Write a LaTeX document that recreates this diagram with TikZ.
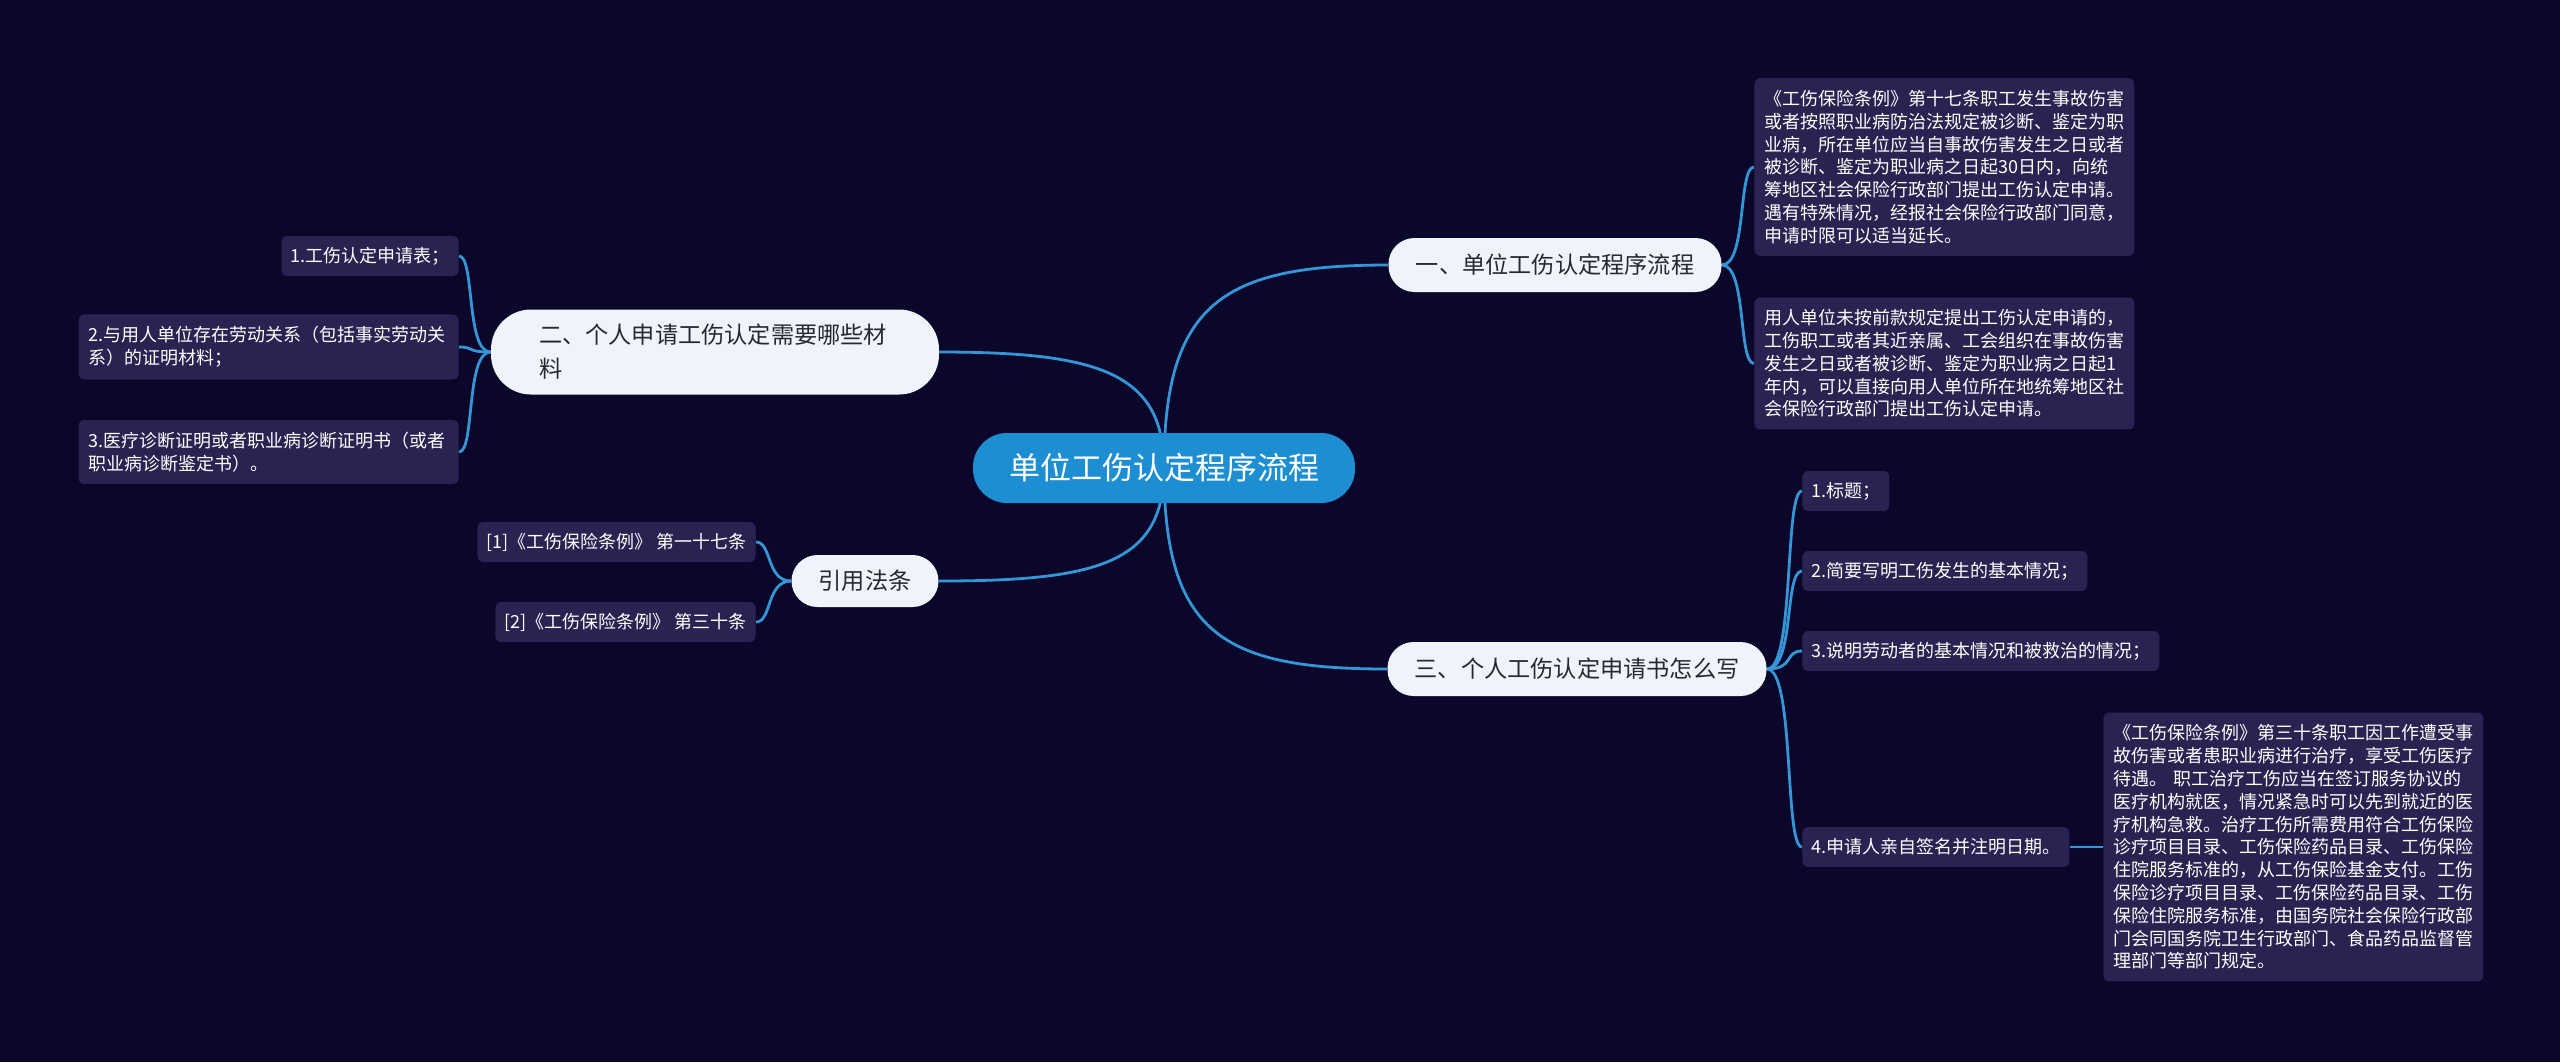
\documentclass[tikz,border=0pt]{standalone}
\usepackage{fontspec}
\setmainfont{Noto Sans CJK SC}
\usetikzlibrary{backgrounds}

\definecolor{bgcol}{RGB}{11,7,42}
\definecolor{linecol}{RGB}{52,150,215}
\definecolor{rootcol}{RGB}{30,142,210}
\definecolor{branchcol}{RGB}{238,243,252}
\definecolor{branchtext}{RGB}{40,40,50}
\definecolor{leafcol}{RGB}{40,35,80}

\tikzset{
    link/.style={draw=linecol, line width=1.4pt},
    rootnode/.style={fill=rootcol, text=white, rounded corners=17pt,
	minimum width=191pt, minimum height=35pt, font=\fontsize{15.5}{18}\selectfont},
    branch/.style={fill=branchcol, text=branchtext, rounded corners=13pt,
	minimum height=27pt, font=\fontsize{11.6}{17}\selectfont},
    leaf/.style={fill=leafcol, text=white, rounded corners=3pt, inner xsep=4.5pt,
	inner ysep=5pt, minimum height=20pt, font=\fontsize{9}{11.4}\selectfont, align=left},
    wideleaf/.style={leaf, text width=180pt, inner xsep=5pt, inner ysep=6pt}
}

\begin{document}
\begin{tikzpicture}[x=0.5pt, y=-0.5pt]
    \useasboundingbox (0, 0) rectangle (2560, 1062);
    \node[rootnode] (root) at (1164, 468) {单位工伤认定程序流程};
    \node[branch, minimum width=166.5pt] (b1) at (1555, 265) {一、单位工伤认定程序流程};
    \node[branch, minimum width=189.5pt] (b3) at (1577, 669) {三、个人工伤认定申请书怎么写};
    \node[branch, minimum width=224pt, minimum height=42.5pt, rounded corners=20pt,
	text width=176pt, inner xsep=24pt, align=left] (b2) at (715, 352)
	{二、个人申请工伤认定需要哪些材\\料};
    \node[branch, minimum width=73.5pt, minimum height=26pt] (b4) at (865, 581) {引用法条};

    \node[wideleaf, anchor=west] (lA) at (1754, 167) {《工伤保险条例》第十七条职工发生事故伤害\\
或者按照职业病防治法规定被诊断、鉴定为职\\
业病，所在单位应当自事故伤害发生之日或者\\
被诊断、鉴定为职业病之日起30日内，向统\\
筹地区社会保险行政部门提出工伤认定申请。\\
遇有特殊情况，经报社会保险行政部门同意，\\
申请时限可以适当延长。};
    \node[wideleaf, anchor=west] (lB) at (1754, 363.5) {用人单位未按前款规定提出工伤认定申请的，\\
工伤职工或者其近亲属、工会组织在事故伤害\\
发生之日或者被诊断、鉴定为职业病之日起1\\
年内，可以直接向用人单位所在地统筹地区社\\
会保险行政部门提出工伤认定申请。};

    \node[leaf, anchor=east] (l1) at (459, 256) {1.工伤认定申请表；};
    \node[wideleaf, anchor=east] (l2) at (459, 347) {2.与用人单位存在劳动关系（包括事实劳动关\\
系）的证明材料；};
    \node[wideleaf, anchor=east] (l3) at (459, 452) {3.医疗诊断证明或者职业病诊断证明书（或者\\
职业病诊断鉴定书）。};

    \node[leaf, anchor=east] (r1) at (756, 542) {[1]《工伤保险条例》 第一十七条};
    \node[leaf, anchor=east] (r2) at (756, 622) {[2]《工伤保险条例》 第三十条};

    \node[leaf, anchor=west] (s1) at (1802, 491) {1.标题；};
    \node[leaf, anchor=west] (s2) at (1802, 571) {2.简要写明工伤发生的基本情况；};
    \node[leaf, anchor=west] (s3) at (1802, 651) {3.说明劳动者的基本情况和被救治的情况；};
    \node[leaf, anchor=west] (s4) at (1802, 847) {4.申请人亲自签名并注明日期。};
    \node[wideleaf, anchor=west] (s5) at (2103, 847) {《工伤保险条例》第三十条职工因工作遭受事\\
故伤害或者患职业病进行治疗，享受工伤医疗\\
待遇。 职工治疗工伤应当在签订服务协议的\\
医疗机构就医，情况紧急时可以先到就近的医\\
疗机构急救。治疗工伤所需费用符合工伤保险\\
诊疗项目目录、工伤保险药品目录、工伤保险\\
住院服务标准的，从工伤保险基金支付。工伤\\
保险诊疗项目目录、工伤保险药品目录、工伤\\
保险住院服务标准，由国务院社会保险行政部\\
门会同国务院卫生行政部门、食品药品监督管\\
理部门等部门规定。};

    \begin{scope}[on background layer]
	\fill[bgcol] (0, 0) rectangle (2560, 1062);
	\draw[link] (root.center) .. controls +(0, -165) and +(-165, 0) .. (b1.west);
	\draw[link] (root.center) .. controls +(0, 165) and +(-165, 0) .. (b3.west);
	\draw[link] (root.center) .. controls +(0, -95) and +(160, 0) .. (b2.east);
	\draw[link] (root.center) .. controls +(0, 95) and +(160, 0) .. (b4.east);
	\draw[link] (b1.east) .. controls +(25, 0) and +(-16, 0) .. (lA.west);
	\draw[link] (b1.east) .. controls +(25, 0) and +(-16, 0) .. (lB.west);
	\draw[link] (b2.west) .. controls +(-25, 0) and +(16, 0) .. (l1.east);
	\draw[link] (b2.west) .. controls +(-25, 0) and +(16, 0) .. (l2.east);
	\draw[link] (b2.west) .. controls +(-25, 0) and +(16, 0) .. (l3.east);
	\draw[link] (b4.west) .. controls +(-25, 0) and +(16, 0) .. (r1.east);
	\draw[link] (b4.west) .. controls +(-25, 0) and +(16, 0) .. (r2.east);
	\draw[link] (b3.east) .. controls +(28, 0) and +(-18, 0) .. (s1.west);
	\draw[link] (b3.east) .. controls +(28, 0) and +(-18, 0) .. (s2.west);
	\draw[link] (b3.east) .. controls +(28, 0) and +(-18, 0) .. (s3.west);
	\draw[link] (b3.east) .. controls +(28, 0) and +(-18, 0) .. (s4.west);
	\draw[link] (s4.east) -- (s5.west);
    \end{scope}
\end{tikzpicture}
\end{document}
